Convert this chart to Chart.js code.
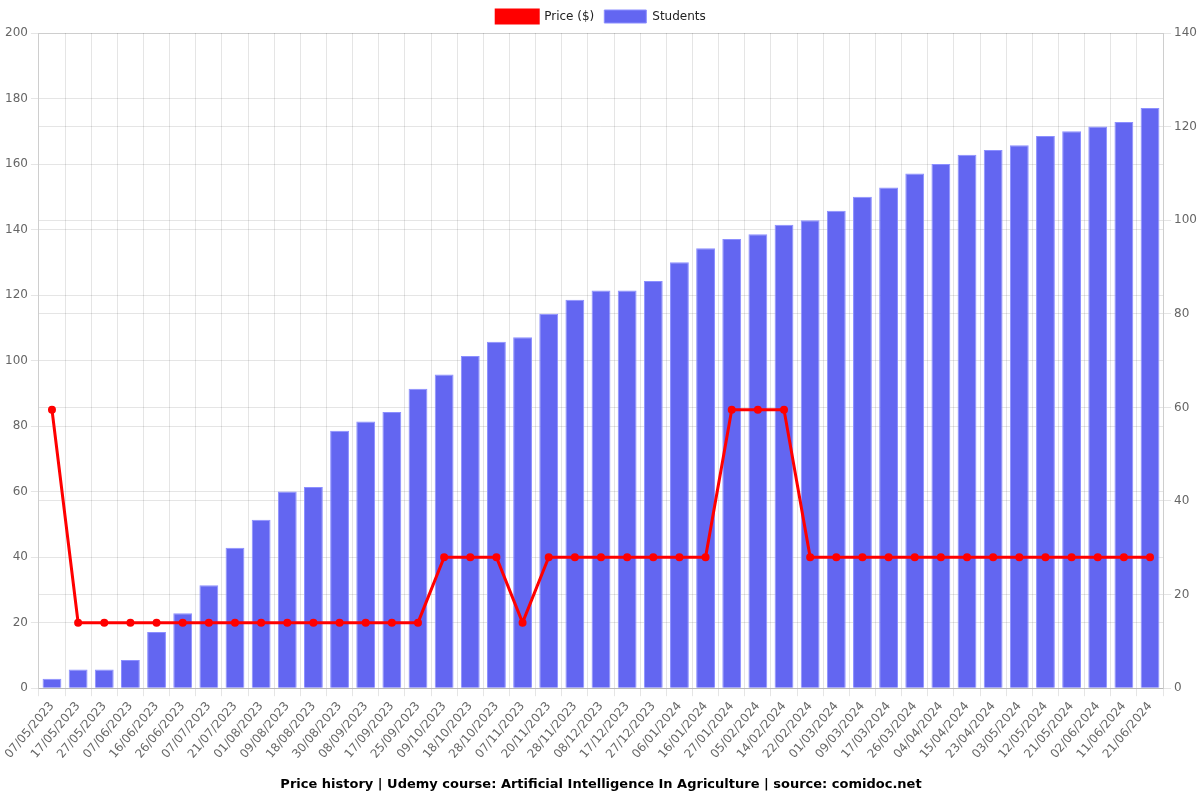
<!DOCTYPE html>
<html>
<head>
<meta charset="utf-8">
<script src="https://cdn.jsdelivr.net/npm/chart.js@4"></script>
<style>
  body { margin: 0; background: #fff; }
  #wrap { width: 1200px; height: 800px; }
</style>
</head>
<body>
<div id="wrap"><canvas id="mycanvas"></canvas></div>
<script>
var dates = ["07/05/2023","17/05/2023","27/05/2023","07/06/2023","16/06/2023","26/06/2023","07/07/2023","21/07/2023","01/08/2023","09/08/2023","18/08/2023","30/08/2023","08/09/2023","17/09/2023","25/09/2023","09/10/2023","18/10/2023","28/10/2023","07/11/2023","20/11/2023","28/11/2023","08/12/2023","17/12/2023","27/12/2023","06/01/2024","16/01/2024","27/01/2024","05/02/2024","14/02/2024","22/02/2024","01/03/2024","09/03/2024","17/03/2024","26/03/2024","04/04/2024","15/04/2024","23/04/2024","03/05/2024","12/05/2024","21/05/2024","02/06/2024","11/06/2024","21/06/2024"];

var price = [85,20,20,20,20,20,20,20,20,20,20,20,20,20,20,40,40,40,20,40,40,40,40,40,40,40,85,85,85,40,40,40,40,40,40,40,40,40,40,40,40,40,40];

var students = [2,4,4,6,12,16,22,30,36,42,43,55,57,59,64,67,71,74,75,80,83,85,85,87,91,94,96,97,99,100,102,105,107,110,112,114,115,116,118,119,120,121,124];

var chartTitle = "Price history | Udemy course: Artificial Intelligence In Agriculture | source: comidoc.net";

Chart.defaults.font.family = "'DejaVu Sans', sans-serif";
Chart.defaults.font.size = 12;
Chart.defaults.color = "#666";

var ctx = document.getElementById("mycanvas");

var chart = new Chart(ctx, {
	type: 'bar',
	data: {
		labels: dates,
		datasets: [
			{
				type: 'line',
				label: 'Price ($)',
				data: price,
				yAxisID: 'y',
				borderColor: 'rgb(255, 0, 0)',
				backgroundColor: 'rgb(255, 0, 0)',
				borderWidth: 3,
				pointRadius: 2.5,
				pointHoverRadius: 4,
				tension: 0,
				order: 0
			},
			{
				type: 'bar',
				label: 'Students',
				data: students,
				yAxisID: 'y1',
				backgroundColor: 'rgba(99, 102, 241, 1)',
				borderColor: 'rgba(140, 143, 255, 1)',
				borderWidth: 1,
				order: 1
			}
		]
	},
	options: {
		responsive: true,
		maintainAspectRatio: false,
		animation: false,
		layout: { padding: { left: 2, right: 0, top: 0, bottom: 4 } },
		plugins: {
			legend: {
				position: 'top',
				labels: { boxWidth: 42, boxHeight: 13, color: '#222', padding: 10 }
			},
			title: {
				display: true,
				text: chartTitle,
				position: 'bottom',
				color: '#000',
				font: { size: 13, weight: 'bold' },
				padding: { top: 12, bottom: 4 }
			}
		},
		scales: {
			x: {
				ticks: { maxRotation: 50, minRotation: 50, autoSkip: false, color: '#666' },
				grid: { color: 'rgba(0,0,0,0.1)' }
			},
			y: {
				position: 'left',
				min: 0,
				max: 200,
				ticks: { stepSize: 20 },
				grid: { color: 'rgba(0,0,0,0.1)' }
			},
			y1: {
				position: 'right',
				min: 0,
				max: 140,
				ticks: { stepSize: 20 },
				grid: { color: 'rgba(0,0,0,0.1)' }
			}
		}
	}
});
</script>
</body>
</html>
